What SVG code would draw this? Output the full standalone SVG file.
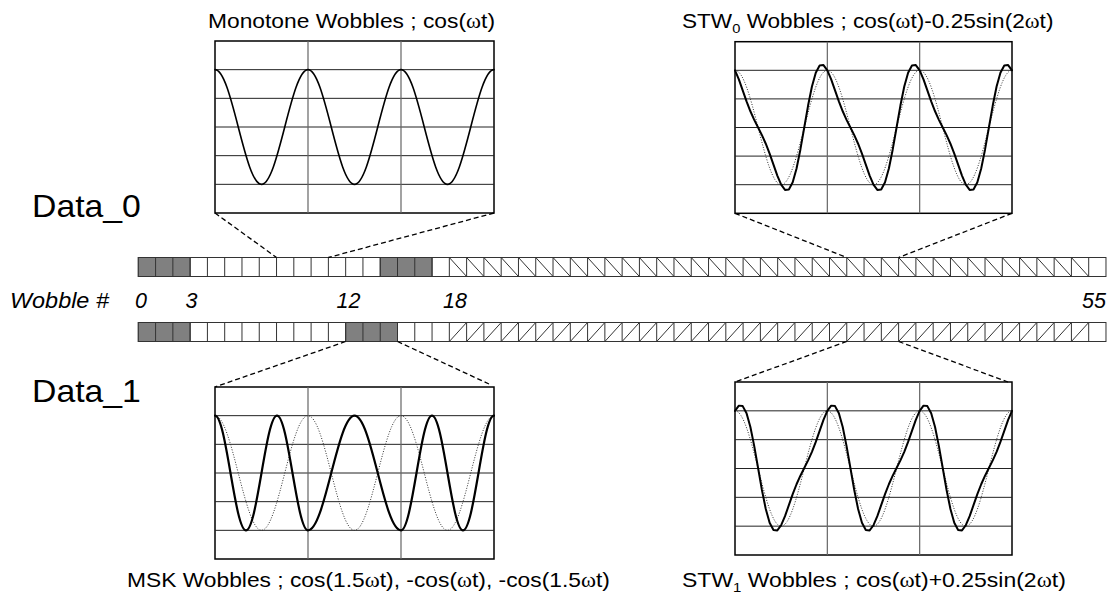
<svg xmlns="http://www.w3.org/2000/svg" width="1108" height="594" viewBox="0 0 1108 594">
<style>
.t{font-family:"Liberation Sans",Arial,sans-serif;fill:#000}
.ttl{font-size:20px}
.big{font-size:31px}
.num{font-size:21.5px;font-style:italic}
.w{font-family:"Liberation Serif","Times New Roman",serif}
.box{fill:#fff;stroke:#000;stroke-width:1.5}
.hg{fill:none;stroke:#222;stroke-width:1}
.vg{fill:none;stroke:#666;stroke-width:1.2}
.cv{fill:none;stroke:#000;stroke-width:2;stroke-linejoin:round;stroke-linecap:round}
.ref{fill:none;stroke:#333;stroke-width:1;stroke-dasharray:1 1.6}
.cell{fill:#fff;stroke:#333;stroke-width:1}
.gray{fill:#808080;stroke:#333;stroke-width:1}
.ln{fill:none;stroke:#333;stroke-width:1}
.dash{fill:none;stroke:#000;stroke-width:1.3;stroke-dasharray:5 3}
</style>

<!-- Left labels -->
<g id="label-data0"><text class="t big" transform="translate(32,217) scale(1.09,1)">Data_0</text></g>
<g id="label-data1"><text class="t big" transform="translate(32,402) scale(1.09,1)">Data_1</text></g>
<g id="label-wobble">
<text class="t num" transform="translate(10,308) scale(1.09,1)">Wobble #</text>
<text class="t num" x="141" y="308" text-anchor="middle">0</text>
<text class="t num" x="191.5" y="308" text-anchor="middle">3</text>
<text class="t num" x="348.5" y="308" text-anchor="middle">12</text>
<text class="t num" x="455" y="308" text-anchor="middle">18</text>
<text class="t num" x="1106" y="308" text-anchor="end">55</text>
</g>

<!-- Top bar (Data_0) -->
<g id="bar-data0">
<rect class="cell" x="138.3" y="257.5" width="967.68" height="19"/>
<rect class="gray" x="138.3" y="257.5" width="51.84" height="19"/>
<rect class="gray" x="380.22" y="257.5" width="51.84" height="19"/>
<path class="ln" d="M155.58,257.5v19
m17.28,-19v19m17.28,-19v19m17.28,-19v19m17.28,-19v19m17.28,-19v19m17.28,-19v19
m17.28,-19v19m17.28,-19v19m17.28,-19v19m17.28,-19v19m17.28,-19v19m17.28,-19v19
m17.28,-19v19m17.28,-19v19m17.28,-19v19m17.28,-19v19m17.28,-19v19m17.28,-19v19
m17.28,-19v19m17.28,-19v19m17.28,-19v19m17.28,-19v19m17.28,-19v19m17.28,-19v19
m17.28,-19v19m17.28,-19v19m17.28,-19v19m17.28,-19v19m17.28,-19v19m17.28,-19v19
m17.28,-19v19m17.28,-19v19m17.28,-19v19m17.28,-19v19m17.28,-19v19m17.28,-19v19
m17.28,-19v19m17.28,-19v19m17.28,-19v19m17.28,-19v19m17.28,-19v19m17.28,-19v19
m17.28,-19v19m17.28,-19v19m17.28,-19v19m17.28,-19v19m17.28,-19v19m17.28,-19v19
m17.28,-19v19m17.28,-19v19m17.28,-19v19m17.28,-19v19m17.28,-19v19m17.28,-19v19"/>
<path class="ln" d="M449.34,257.5l17.28,19
m0,-19l17.28,19m0,-19l17.28,19m0,-19l17.28,19m0,-19l17.28,19m0,-19l17.28,19m0,-19l17.28,19
m0,-19l17.28,19m0,-19l17.28,19m0,-19l17.28,19m0,-19l17.28,19m0,-19l17.28,19m0,-19l17.28,19
m0,-19l17.28,19m0,-19l17.28,19m0,-19l17.28,19m0,-19l17.28,19m0,-19l17.28,19m0,-19l17.28,19
m0,-19l17.28,19m0,-19l17.28,19m0,-19l17.28,19m0,-19l17.28,19m0,-19l17.28,19m0,-19l17.28,19
m0,-19l17.28,19m0,-19l17.28,19m0,-19l17.28,19m0,-19l17.28,19m0,-19l17.28,19m0,-19l17.28,19
m0,-19l17.28,19m0,-19l17.28,19m0,-19l17.28,19m0,-19l17.28,19m0,-19l17.28,19m0,-19l17.28,19"/>
</g>

<!-- Bottom bar (Data_1) -->
<g id="bar-data1">
<rect class="cell" x="138.3" y="322.5" width="967.68" height="19"/>
<rect class="gray" x="138.3" y="322.5" width="51.84" height="19"/>
<rect class="gray" x="345.66" y="322.5" width="51.84" height="19"/>
<path class="ln" d="M155.58,322.5v19
m17.28,-19v19m17.28,-19v19m17.28,-19v19m17.28,-19v19m17.28,-19v19m17.28,-19v19
m17.28,-19v19m17.28,-19v19m17.28,-19v19m17.28,-19v19m17.28,-19v19m17.28,-19v19
m17.28,-19v19m17.28,-19v19m17.28,-19v19m17.28,-19v19m17.28,-19v19m17.28,-19v19
m17.28,-19v19m17.28,-19v19m17.28,-19v19m17.28,-19v19m17.28,-19v19m17.28,-19v19
m17.28,-19v19m17.28,-19v19m17.28,-19v19m17.28,-19v19m17.28,-19v19m17.28,-19v19
m17.28,-19v19m17.28,-19v19m17.28,-19v19m17.28,-19v19m17.28,-19v19m17.28,-19v19
m17.28,-19v19m17.28,-19v19m17.28,-19v19m17.28,-19v19m17.28,-19v19m17.28,-19v19
m17.28,-19v19m17.28,-19v19m17.28,-19v19m17.28,-19v19m17.28,-19v19m17.28,-19v19
m17.28,-19v19m17.28,-19v19m17.28,-19v19m17.28,-19v19m17.28,-19v19m17.28,-19v19"/>
<path class="ln" d="M449.34,341.5l17.28,-19
m0,19l17.28,-19m0,19l17.28,-19m0,19l17.28,-19m0,19l17.28,-19m0,19l17.28,-19m0,19l17.28,-19
m0,19l17.28,-19m0,19l17.28,-19m0,19l17.28,-19m0,19l17.28,-19m0,19l17.28,-19m0,19l17.28,-19
m0,19l17.28,-19m0,19l17.28,-19m0,19l17.28,-19m0,19l17.28,-19m0,19l17.28,-19m0,19l17.28,-19
m0,19l17.28,-19m0,19l17.28,-19m0,19l17.28,-19m0,19l17.28,-19m0,19l17.28,-19m0,19l17.28,-19
m0,19l17.28,-19m0,19l17.28,-19m0,19l17.28,-19m0,19l17.28,-19m0,19l17.28,-19m0,19l17.28,-19
m0,19l17.28,-19m0,19l17.28,-19m0,19l17.28,-19m0,19l17.28,-19m0,19l17.28,-19m0,19l17.28,-19"/>
</g>

<!-- Chart: Monotone -->
<g id="chart-monotone">
<text class="t ttl" transform="translate(208,28) scale(1.14,1)">Monotone Wobbles ; cos(<tspan class="w">ω</tspan>t)</text>
<rect class="box" x="215" y="41" width="279" height="172"/>
<path class="hg" d="M215,69.67H494M215,98.33H494M215,127H494M215,155.67H494M215,184.33H494"/>
<path class="vg" d="M308,41V213M401,41V213"/>
<path class="cv" style="stroke-width:1.6" d="M215,69.67
c8.41,0 15.67,27.96 23.25,57.33 c7.58,29.37 14.84,57.33 23.25,57.33 c8.41,0 15.67,-27.96 23.25,-57.33 c7.58,-29.37 14.84,-57.33 23.25,-57.33
c8.41,0 15.67,27.96 23.25,57.33 c7.58,29.37 14.84,57.33 23.25,57.33 c8.41,0 15.67,-27.96 23.25,-57.33 c7.58,-29.37 14.84,-57.33 23.25,-57.33
c8.41,0 15.67,27.96 23.25,57.33 c7.58,29.37 14.84,57.33 23.25,57.33 c8.41,0 15.67,-27.96 23.25,-57.33 c7.58,-29.37 14.84,-57.33 23.25,-57.33"/>
</g>

<!-- Chart: STW0 -->
<g id="chart-stw0">
<text class="t ttl" transform="translate(682,28) scale(1.13,1)">STW<tspan font-size="13" dy="5">0</tspan><tspan dy="-5"> Wobbles ; cos(</tspan><tspan class="w">ω</tspan>t)-0.25sin(2<tspan class="w">ω</tspan>t)</text>
<rect class="box" x="735" y="41.7" width="277" height="171.6"/>
<path class="hg" d="M735,70.3H1012M735,98.9H1012M735,127.5H1012M735,156.1H1012M735,184.7H1012"/>
<path class="vg" d="M827.33,41.7V213.3M919.67,41.7V213.3"/>
<path class="ref" d="M735,70.3
c8.35,0 15.55,27.9 23.08,57.2 c7.53,29.3 14.73,57.2 23.08,57.2 c8.35,0 15.55,-27.9 23.08,-57.2 c7.53,-29.3 14.73,-57.2 23.08,-57.2
c8.35,0 15.55,27.9 23.08,57.2 c7.53,29.3 14.73,57.2 23.08,57.2 c8.35,0 15.55,-27.9 23.08,-57.2 c7.53,-29.3 14.73,-57.2 23.08,-57.2
c8.35,0 15.55,27.9 23.08,57.2 c7.53,29.3 14.73,57.2 23.08,57.2 c8.35,0 15.55,-27.9 23.08,-57.2 c7.53,-29.3 14.73,-57.2 23.08,-57.2"/>
<path class="cv" d="M735,70.3
l3.847,9.10 3.847,10.95 3.847,11.00 3.847,9.93 3.847,8.57 3.847,7.65 3.847,7.65 3.847,8.57 3.847,9.93 3.847,11.00 3.847,10.95 3.847,9.10 3.847,5.20 3.847,-0.48 3.847,-7.17 3.847,-13.77 3.847,-19.03 3.847,-21.95 3.847,-21.95 3.847,-19.03 3.847,-13.77 3.847,-7.17 3.847,-0.48 3.847,5.20
3.847,9.10 3.847,10.95 3.847,11.00 3.847,9.93 3.847,8.57 3.847,7.65 3.847,7.65 3.847,8.57 3.847,9.93 3.847,11.00 3.847,10.95 3.847,9.10 3.847,5.20 3.847,-0.48 3.847,-7.17 3.847,-13.77 3.847,-19.03 3.847,-21.95 3.847,-21.95 3.847,-19.03 3.847,-13.77 3.847,-7.17 3.847,-0.48 3.847,5.20
3.847,9.10 3.847,10.95 3.847,11.00 3.847,9.93 3.847,8.57 3.847,7.65 3.847,7.65 3.847,8.57 3.847,9.93 3.847,11.00 3.847,10.95 3.847,9.10 3.847,5.20 3.847,-0.48 3.847,-7.17 3.847,-13.77 3.847,-19.03 3.847,-21.95 3.847,-21.95 3.847,-19.03 3.847,-13.77 3.847,-7.17 3.847,-0.48 3.847,5.20"/>
</g>

<!-- Chart: MSK -->
<g id="chart-msk">
<text class="t ttl" transform="translate(127,587) scale(1.14,1)">MSK Wobbles ; cos(1.5<tspan class="w">ω</tspan>t), -cos(<tspan class="w">ω</tspan>t), -cos(1.5<tspan class="w">ω</tspan>t)</text>
<rect class="box" x="215" y="387" width="279" height="172"/>
<path class="hg" d="M215,415.67H494M215,444.33H494M215,473H494M215,501.67H494M215,530.33H494"/>
<path class="vg" d="M308,387V559M401,387V559"/>
<path class="ref" d="M215,415.67
c8.41,0 15.67,27.96 23.25,57.33 c7.58,29.37 14.84,57.33 23.25,57.33 c8.41,0 15.67,-27.96 23.25,-57.33 c7.58,-29.37 14.84,-57.33 23.25,-57.33
c8.41,0 15.67,27.96 23.25,57.33 c7.58,29.37 14.84,57.33 23.25,57.33 c8.41,0 15.67,-27.96 23.25,-57.33 c7.58,-29.37 14.84,-57.33 23.25,-57.33
c8.41,0 15.67,27.96 23.25,57.33 c7.58,29.37 14.84,57.33 23.25,57.33 c8.41,0 15.67,-27.96 23.25,-57.33 c7.58,-29.37 14.84,-57.33 23.25,-57.33"/>
<path class="cv" style="stroke-width:2.2" d="M215,415.67
c5.61,0 10.44,27.96 15.5,57.33 c5.06,29.37 9.89,57.33 15.5,57.33 c5.61,0 10.44,-27.96 15.5,-57.33 c5.06,-29.37 9.89,-57.33 15.5,-57.33
c5.61,0 10.44,27.96 15.5,57.33 c5.06,29.37 9.89,57.33 15.5,57.33
c8.41,0 15.67,-27.96 23.25,-57.33 c7.58,-29.37 14.84,-57.33 23.25,-57.33 c8.41,0 15.67,27.96 23.25,57.33 c7.58,29.37 14.84,57.33 23.25,57.33
c5.61,0 10.44,-27.96 15.5,-57.33 c5.06,-29.37 9.89,-57.33 15.5,-57.33 c5.61,0 10.44,27.96 15.5,57.33 c5.06,29.37 9.89,57.33 15.5,57.33
c5.61,0 10.44,-27.96 15.5,-57.33 c5.06,-29.37 9.89,-57.33 15.5,-57.33"/>
</g>

<!-- Chart: STW1 -->
<g id="chart-stw1">
<text class="t ttl" transform="translate(682,587) scale(1.15,1)">STW<tspan font-size="13" dy="5">1</tspan><tspan dy="-5"> Wobbles ; cos(</tspan><tspan class="w">ω</tspan>t)+0.25sin(2<tspan class="w">ω</tspan>t)</text>
<rect class="box" x="735" y="382" width="277" height="173"/>
<path class="hg" d="M735,410.83H1012M735,439.67H1012M735,468.5H1012M735,497.33H1012M735,526.17H1012"/>
<path class="vg" d="M827.33,382V555M919.67,382V555"/>
<path class="ref" d="M735,410.83
c8.35,0 15.55,28.13 23.08,57.67 c7.53,29.54 14.73,57.67 23.08,57.67 c8.35,0 15.55,-28.13 23.08,-57.67 c7.53,-29.54 14.73,-57.67 23.08,-57.67
c8.35,0 15.55,28.13 23.08,57.67 c7.53,29.54 14.73,57.67 23.08,57.67 c8.35,0 15.55,-28.13 23.08,-57.67 c7.53,-29.54 14.73,-57.67 23.08,-57.67
c8.35,0 15.55,28.13 23.08,57.67 c7.53,29.54 14.73,57.67 23.08,57.67 c8.35,0 15.55,-28.13 23.08,-57.67 c7.53,-29.54 14.73,-57.67 23.08,-57.67"/>
<path class="cv" d="M735,410.83
l3.847,-5.20 3.847,0.48 3.847,7.17 3.847,13.77 3.847,19.03 3.847,21.95 3.847,21.95 3.847,19.03 3.847,13.77 3.847,7.17 3.847,0.48 3.847,-5.20 3.847,-9.10 3.847,-10.95 3.847,-11.00 3.847,-9.93 3.847,-8.57 3.847,-7.65 3.847,-7.65 3.847,-8.57 3.847,-9.93 3.847,-11.00 3.847,-10.95 3.847,-9.10
3.847,-5.20 3.847,0.48 3.847,7.17 3.847,13.77 3.847,19.03 3.847,21.95 3.847,21.95 3.847,19.03 3.847,13.77 3.847,7.17 3.847,0.48 3.847,-5.20 3.847,-9.10 3.847,-10.95 3.847,-11.00 3.847,-9.93 3.847,-8.57 3.847,-7.65 3.847,-7.65 3.847,-8.57 3.847,-9.93 3.847,-11.00 3.847,-10.95 3.847,-9.10
3.847,-5.20 3.847,0.48 3.847,7.17 3.847,13.77 3.847,19.03 3.847,21.95 3.847,21.95 3.847,19.03 3.847,13.77 3.847,7.17 3.847,0.48 3.847,-5.20 3.847,-9.10 3.847,-10.95 3.847,-11.00 3.847,-9.93 3.847,-8.57 3.847,-7.65 3.847,-7.65 3.847,-8.57 3.847,-9.93 3.847,-11.00 3.847,-10.95 3.847,-9.10"/>
</g>

<!-- Connectors -->
<g id="connectors">
<path class="dash" d="M215,213L276.54,257.5M494,213L328.38,257.5"/>
<path class="dash" d="M735,213.3L846.78,257.5M1012,213.3L898.62,257.5"/>
<path class="dash" d="M345.66,341.5L215,387M397.5,341.5L489,384"/>
<path class="dash" d="M846.78,341.5L735,382M898.62,341.5L1008,382"/>
</g>
</svg>
